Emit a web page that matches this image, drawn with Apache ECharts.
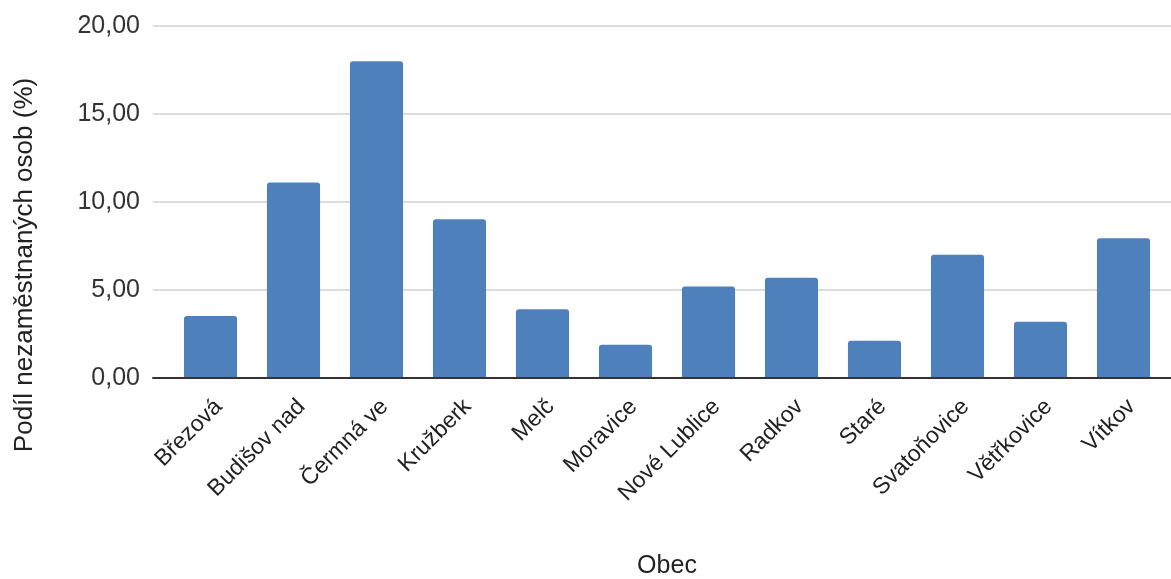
<!DOCTYPE html>
<html>
<head>
<meta charset="utf-8">
<script src="https://cdn.jsdelivr.net/npm/echarts@6/dist/echarts.min.js"></script>
<style>
  html, body { margin: 0; padding: 0; background: #fff; }
  #chart { width: 1171px; height: 579px; }
</style>
</head>
<body>
<div id="chart"></div>
<script>
const categories = ["Březová", "Budišov nad", "Čermná ve", "Kružberk", "Melč", "Moravice", "Nové Lublice", "Radkov", "Staré", "Svatoňovice", "Větřkovice", "Vítkov"];
const values = [3.52, 11.11, 18.0, 9.02, 3.9, 1.89, 5.2, 5.7, 2.12, 7.0, 3.2, 7.94];
const yTicks = [0, 5, 10, 15, 20];
const xTitle = "Obec";
const yTitle = "Podíl nezaměstnaných osob (%)";

const FONT = "'Liberation Sans', Arial, sans-serif";
const chart = echarts.init(document.getElementById('chart'), null, { renderer: 'canvas' });

chart.setOption({
  animation: false,
  backgroundColor: '#ffffff',
  grid: [
    { left: 153, right: 0, top: 26, bottom: 201, containLabel: false, outerBoundsMode: 'none' },
    { left: 169, right: 6, top: 26, bottom: 201, containLabel: false, outerBoundsMode: 'none' }
  ],
  xAxis: [
    {
      gridIndex: 0, type: 'value', min: 0, max: 1, z: 10,
      axisLine: { show: true, lineStyle: { color: '#333333', width: 2 } },
      axisTick: { show: false }, axisLabel: { show: false }, splitLine: { show: false }
    },
    {
      gridIndex: 1, type: 'category', data: categories,
      axisLine: { show: false }, axisTick: { show: false },
      axisLabel: {
        rotate: 45, interval: 0, margin: 17, verticalAlign: 'top',
        fontFamily: FONT, fontSize: 23, color: '#222222'
      },
      name: xTitle, nameLocation: 'middle', nameGap: 176,
      nameTextStyle: { fontFamily: FONT, fontSize: 25, color: '#222222' }
    }
  ],
  yAxis: [
    {
      gridIndex: 0, type: 'value', min: yTicks[0], max: yTicks[yTicks.length - 1], interval: 5,
      axisLine: { show: false }, axisTick: { show: false },
      axisLabel: {
        margin: 13, fontFamily: FONT, fontSize: 25, color: '#333333',
        formatter: v => v.toFixed(2).replace('.', ',')
      },
      splitLine: { show: true, lineStyle: { color: '#d0d0d0', width: 1.5 } }
    },
    {
      gridIndex: 1, type: 'value', min: yTicks[0], max: yTicks[yTicks.length - 1], interval: 5,
      show: false, splitLine: { show: false }
    }
  ],
  graphic: [
    {
      type: 'text', x: 25, y: 265, rotation: Math.PI / 2,
      style: {
        text: yTitle, font: '26px ' + FONT, fill: '#222222',
        align: 'center', verticalAlign: 'middle'
      }
    }
  ],
  series: [
    {
      type: 'bar', xAxisIndex: 1, yAxisIndex: 1,
      data: values, barWidth: '64%',
      itemStyle: { color: '#4e80bc', borderRadius: [3, 3, 0, 0] }
    }
  ]
});
</script>
</body>
</html>
